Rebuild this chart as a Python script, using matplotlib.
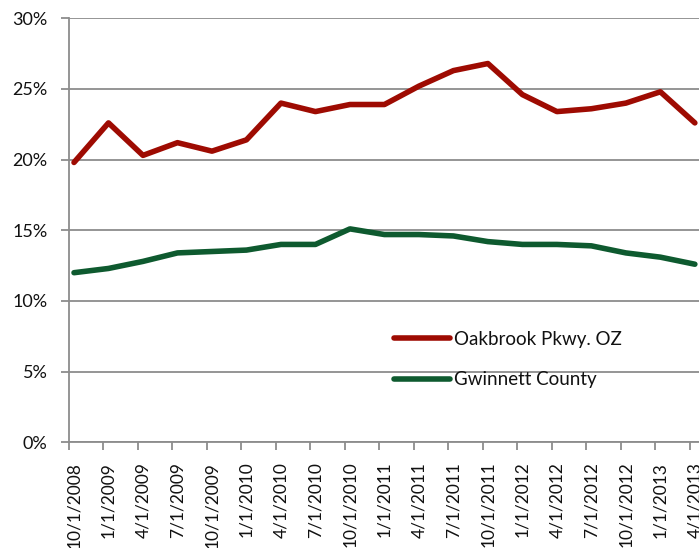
import matplotlib
matplotlib.use("Agg")
import matplotlib.pyplot as plt
from matplotlib.ticker import FixedLocator, FuncFormatter

plt.rcParams['font.family'] = ['Lato', 'DejaVu Sans']

# Quarterly dates and rates (percent)
dates = ["10/1/2008", "1/1/2009", "4/1/2009", "7/1/2009", "10/1/2009",
         "1/1/2010", "4/1/2010", "7/1/2010", "10/1/2010", "1/1/2011",
         "4/1/2011", "7/1/2011", "10/1/2011", "1/1/2012", "4/1/2012",
         "7/1/2012", "10/1/2012", "1/1/2013", "4/1/2013"]
oakbrook = [19.8, 22.6, 20.3, 21.2, 20.6, 21.4, 24.0, 23.4, 23.9, 23.9,
            25.2, 26.3, 26.8, 24.6, 23.4, 23.6, 24.0, 24.8, 22.6]
gwinnett = [12.0, 12.3, 12.8, 13.4, 13.5, 13.6, 14.0, 14.0, 15.1, 14.7,
            14.7, 14.6, 14.2, 14.0, 14.0, 13.9, 13.4, 13.1, 12.6]
series_names = ["Oakbrook Pkwy. OZ", "Gwinnett County"]
y_ticks = [0, 5, 10, 15, 20, 25, 30]

RED = "#9E0B02"
GREEN = "#0E5A2F"
GRID = "#8C8C8C"
FS = 13.5

fig = plt.figure(figsize=(6.99, 5.48), dpi=100)
ax = fig.add_axes([69 / 699, 1 - 442.3 / 548, 630 / 699, (442.3 - 18.3) / 548])

x = list(range(len(dates)))
ax.plot(x, oakbrook, color=RED, lw=4.0, solid_capstyle='round',
        solid_joinstyle='round', label=series_names[0], zorder=3)
ax.plot(x, gwinnett, color=GREEN, lw=4.0, solid_capstyle='round',
        solid_joinstyle='round', label=series_names[1], zorder=3)

ax.set_ylim(0, 30)
ax.set_xlim(-0.145, 18.12)

# y axis
ax.yaxis.set_major_locator(FixedLocator(y_ticks))
ax.yaxis.set_major_formatter(FuncFormatter(lambda v, p: f"{v:.0f}%"))
ax.tick_params(axis='y', direction='out', length=6, width=1.3, color=GRID,
               pad=9.5, labelsize=13, labelcolor='#111111')
ax.grid(axis='y', color=GRID, lw=1.3, zorder=1)

# x axis: labels centred on points, tick marks offset to category edges
ax.set_xticks(x)
ax.set_xticklabels(dates, rotation=90, fontsize=12.5, color='#111111')
ax.tick_params(axis='x', which='major', length=0, pad=14)
ax.set_xticks([i - 0.145 for i in x], minor=True)
ax.tick_params(axis='x', which='minor', direction='out', length=6,
               width=1.3, color=GRID)

for side in ('top', 'right'):
    ax.spines[side].set_visible(False)
for side in ('left', 'bottom'):
    ax.spines[side].set_color(GRID)
    ax.spines[side].set_linewidth(1.3)

leg = ax.legend(loc='center left', bbox_to_anchor=(394 / 699, 1 - 359.5 / 548),
                bbox_transform=fig.transFigure, frameon=False, fontsize=FS,
                handlelength=3.0, handletextpad=0.2, labelspacing=1.25,
                borderpad=0, borderaxespad=0)
for t in leg.get_texts():
    t.set_color('#111111')

fig.savefig("out.png", dpi=100)
